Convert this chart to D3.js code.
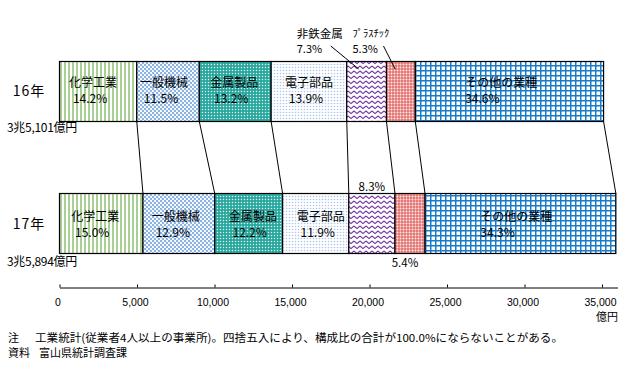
<!DOCTYPE html>
<html><head><meta charset="utf-8">
<script src="https://cdn.jsdelivr.net/npm/d3@7"></script>
<style>
html,body{margin:0;padding:0;background:#fff;}
svg{display:block;font-family:"Noto Sans CJK JP","Noto Sans",sans-serif;}
text{fill:#000;}
</style></head>
<body>
<svg id="chart" width="642" height="365"></svg>
<script>
// ---- data ----
const categories = ["化学工業","一般機械","金属製品","電子部品","非鉄金属","ﾌﾟﾗｽﾁｯｸ","その他の業種"];
const years = ["16年","17年"];
const totals = [35101, 35894];
const totalLabels = ["3兆5,101億円","3兆5,894億円"];
const share16 = [14.2, 11.5, 13.2, 13.9, 7.3, 5.3, 34.6];
const share17 = [15.0, 12.9, 12.2, 11.9, 8.3, 5.4, 34.3];
const tickValues = [0, 5000, 10000, 15000, 20000, 25000, 30000, 35000];
const unitLabel = "億円";
const noteLines = [
  ["注", "工業統計(従業者4人以上の事業所)。四捨五入により、構成比の合計が100.0%にならないことがある。"],
  ["資料", "富山県統計調査課"]
];

// ---- layout ----
const svg = d3.select("#chart");
const x = d3.scaleLinear().domain([0, 36000]).range([59.5, 617.5]);
const y = d3.scaleBand().domain(years).range([61.5, 253.5]).paddingInner(0.5455);
const bw = y.bandwidth();
const shares = [share16, share17];

// patterns
const defs = svg.append("defs");
function pat(id, w, h, build) {
  const p = defs.append("pattern").attr("id", id).attr("patternUnits", "userSpaceOnUse")
    .attr("width", w).attr("height", h);
  build(p);
}
pat("p0", 4, 4, p => {
  p.append("rect").attr("width", 4).attr("height", 4).attr("fill", "#fff");
  p.append("rect").attr("width", 2).attr("height", 4).attr("fill", "#a9cf95");
});
pat("p1", 4, 4, p => {
  p.append("rect").attr("width", 4).attr("height", 4).attr("fill", "#fff");
  p.append("circle").attr("cx", 1).attr("cy", 1).attr("r", 1.25).attr("fill", "#8ab3e3");
  p.append("circle").attr("cx", 3).attr("cy", 3).attr("r", 1.25).attr("fill", "#8ab3e3");
});
pat("p2", 3, 3, p => {
  p.append("rect").attr("width", 3).attr("height", 3).attr("fill", "#27a89e");
  p.append("circle").attr("cx", 1.5).attr("cy", 1.5).attr("r", 0.75).attr("fill", "#e8f6f4");
});
pat("p3", 3, 3, p => {
  p.append("rect").attr("width", 3).attr("height", 3).attr("fill", "#fff");
  p.append("circle").attr("cx", 1.5).attr("cy", 1.5).attr("r", 0.8).attr("fill", "#a9c9ec");
});
pat("p4", 6, 5, p => {
  p.append("rect").attr("width", 6).attr("height", 5).attr("fill", "#fff");
  p.append("path").attr("d", "M0,1 L3,3.6 L6,1").attr("fill", "none")
    .attr("stroke", "#7030a0").attr("stroke-width", 1.1);
});
pat("p5", 3, 3, p => {
  p.append("rect").attr("width", 3).attr("height", 3).attr("fill", "#e27472");
  p.append("circle").attr("cx", 1.5).attr("cy", 1.5).attr("r", 0.95).attr("fill", "#fdeeee");
});
pat("p6", 5, 5, p => {
  p.append("rect").attr("width", 5).attr("height", 5).attr("fill", "#fff");
  p.append("rect").attr("width", 5).attr("height", 1.5).attr("fill", "#1a7cc8");
  p.append("rect").attr("width", 1.5).attr("height", 5).attr("fill", "#1a7cc8");
});

// segments
const segs = years.map((yr, yi) => {
  let cum = 0;
  return categories.map((c, ci) => {
    const v = totals[yi] * shares[yi][ci] / 100;
    const s = { yr, yi, ci, cat: c, share: shares[yi][ci], x0: cum, x1: cum + v };
    cum += v;
    return s;
  });
});

// connecting lines between bars
const conn = svg.append("g");
for (let ci = 0; ci < categories.length; ci++) {
  conn.append("line")
    .attr("x1", x(segs[0][ci].x1)).attr("y1", y(years[0]) + bw)
    .attr("x2", x(segs[1][ci].x1)).attr("y2", y(years[1]))
    .attr("stroke", "#000").attr("stroke-width", 1);
}

// bars
const bars = svg.append("g");
segs.forEach(row => {
  bars.selectAll(null).data(row).enter().append("rect")
    .attr("x", d => x(d.x0)).attr("y", d => y(d.yr))
    .attr("width", d => x(d.x1) - x(d.x0)).attr("height", bw)
    .attr("fill", d => `url(#p${d.ci})`)
    .attr("stroke", "#000").attr("stroke-width", 1.2);
});

// inside labels
const nameDx = [[-5, -4, -1, 0], [-6, -3, 4, 5]];
const lab = svg.append("g").attr("font-size", 12);
segs.forEach((row, yi) => {
  const top = y(years[yi]);
  const nameY = yi === 0 ? 87 - 61.5 : 221 - 193.5;
  const pctY = yi === 0 ? 102.5 - 61.5 : 236.5 - 193.5;
  row.forEach(d => {
    const a = x(d.x0), b = x(d.x1);
    if (d.ci <= 3) {
      const cx = (a + b) / 2 + nameDx[yi][d.ci];
      lab.append("text").attr("x", cx).attr("y", top + nameY).attr("text-anchor", "middle").text(d.cat);
      lab.append("text").attr("x", cx - 3).attr("y", top + pctY).attr("text-anchor", "middle")
        .text(d.share.toFixed(1) + "%");
    } else if (d.ci === 6) {
      const sx = a + (b - a) * (yi === 0 ? 0.265 : 0.29);
      lab.append("text").attr("x", sx).attr("y", top + nameY).text(d.cat);
      lab.append("text").attr("x", sx).attr("y", top + pctY).text(d.share.toFixed(1) + "%");
    }
  });
});

// outside labels, top bar (with leader lines)
[[4, 50, 34, 38], [5, 34, 31, 37]].forEach(([ci, back, lead, ny]) => {
  const d = segs[0][ci];
  const a = x(d.x0), b = x(d.x1);
  const lx = a - back;
  lab.append("text").attr("x", lx).attr("y", ny).attr("font-size", ci === 5 ? 10.5 : 11.5).text(d.cat);
  lab.append("text").attr("x", lx).attr("y", 53).attr("font-size", 11).text(d.share.toFixed(1) + "%");
  svg.append("line").attr("x1", lx + lead).attr("y1", 46)
    .attr("x2", a + (b - a) * 0.3).attr("y2", 69)
    .attr("stroke", "#000").attr("stroke-width", 1);
});
// outside labels, bottom bar
{
  const d = segs[1][4];
  lab.append("text").attr("x", (x(d.x0) + x(d.x1)) / 2).attr("y", 190.5)
    .attr("text-anchor", "middle").attr("font-size", 11.5).text(d.share.toFixed(1) + "%");
  const e = segs[1][5];
  lab.append("text").attr("x", (x(e.x0) + x(e.x1)) / 2 - 5).attr("y", 266.5)
    .attr("text-anchor", "middle").attr("font-size", 11.5).text(e.share.toFixed(1) + "%");
}

// year labels and totals
years.forEach((yr, yi) => {
  svg.append("text").attr("x", 29).attr("y", y(yr) + bw / 2 + 5)
    .attr("text-anchor", "middle").attr("font-size", 14).attr("letter-spacing", 1).text(yr);
  svg.append("text").attr("x", 7).attr("y", y(yr) + bw + (yi === 0 ? 11 : 12))
    .attr("font-size", 12).attr("letter-spacing", -0.3).text(totalLabels[yi]);
});

// axis
const axis = d3.axisBottom(x).tickValues(tickValues).tickSizeInner(-3).tickSizeOuter(0)
  .tickPadding(11).tickFormat(d3.format(","));
const ag = svg.append("g").attr("transform", "translate(0,287.5)").call(axis);
ag.selectAll("text").attr("font-size", 10.5).attr("font-family", "inherit").attr("dx", -2).attr("fill", "#000");
ag.selectAll("line").attr("stroke", "#000");
ag.select(".domain").attr("stroke", "#000");
svg.append("text").attr("x", 618).attr("y", 321).attr("text-anchor", "end")
  .attr("font-size", 11).text(unitLabel);

// notes
noteLines.forEach((ln, i) => {
  const yy = 341.5 + i * 15;
  svg.append("text").attr("x", 8).attr("y", yy).attr("font-size", 11).text(ln[0]);
  const t = svg.append("text").attr("x", i === 0 ? 35 : 39).attr("y", yy).attr("font-size", 11).text(ln[1]);
  if (i === 0) t.attr("textLength", 528).attr("lengthAdjust", "spacingAndGlyphs");
});
</script>
</body></html>
